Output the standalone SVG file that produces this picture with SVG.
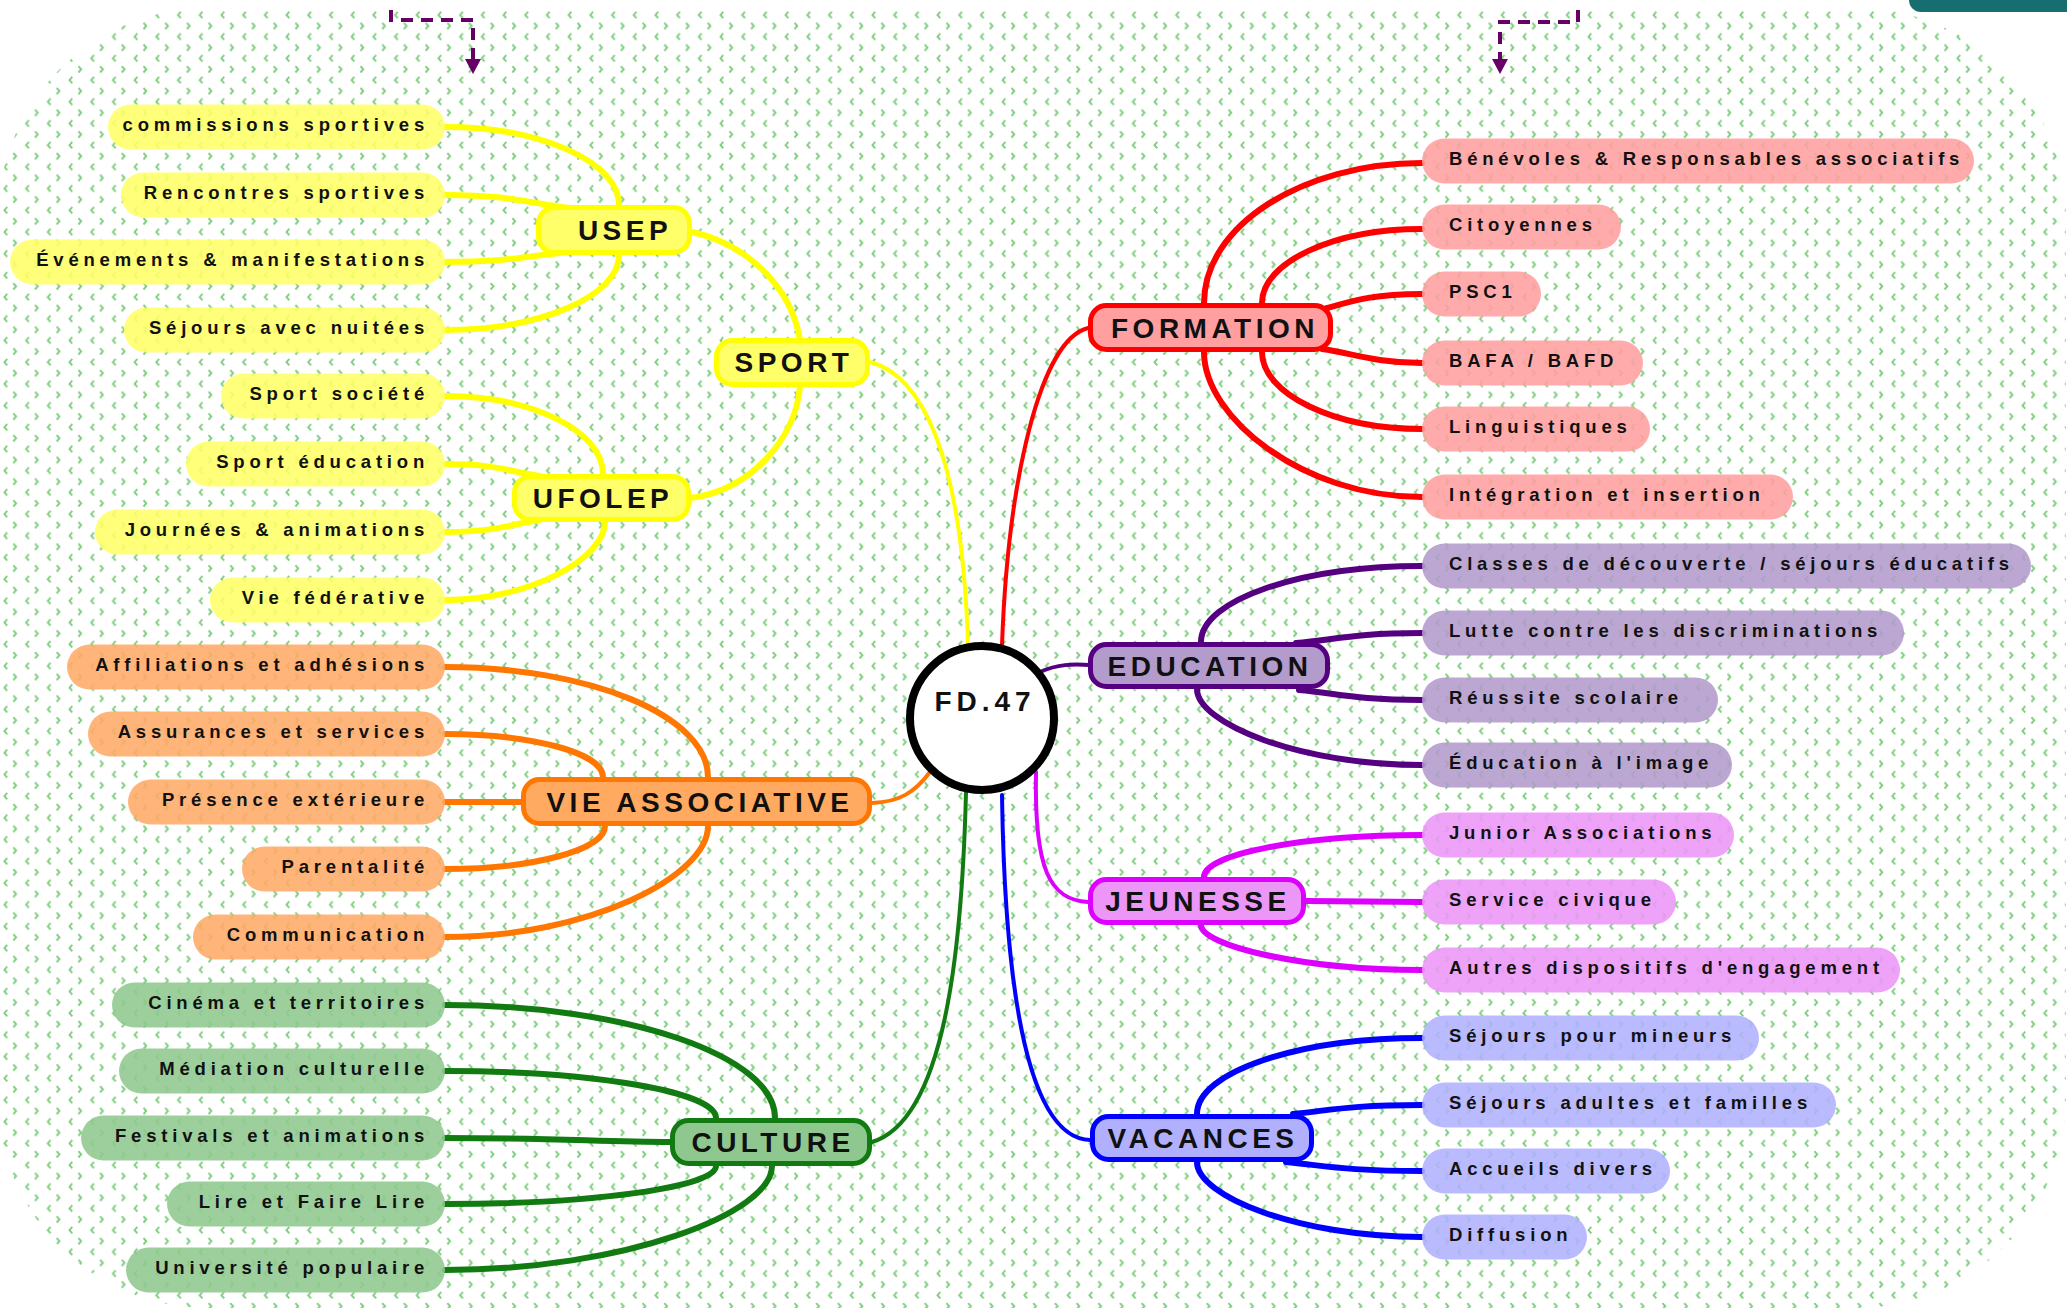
<svg xmlns="http://www.w3.org/2000/svg" width="2067" height="1311" viewBox="0 0 2067 1311">
<defs>
<pattern id="chev" x="0" y="0" width="21.7" height="21.7" patternUnits="userSpaceOnUse">
<path d="M7.2 11.8 L4.4 15 L7.2 18.2" fill="none" stroke="#7fcd7f" stroke-width="1.9"/>
<path d="M13.3 1 L16.1 4.2 L13.3 7.4" fill="none" stroke="#7fcd7f" stroke-width="1.9"/>
</pattern>
<marker id="arr" markerWidth="16" markerHeight="16" refX="1" refY="8" orient="auto" markerUnits="userSpaceOnUse" viewBox="0 0 16 16">
<path d="M0 0 L15 8 L0 16 Z" fill="#660066"/>
</marker>
</defs>
<style>
text{font-family:"Liberation Sans",Arial,sans-serif;font-weight:bold;fill:#111}
.leaf text{font-size:18.5px;letter-spacing:4.8px}
.l text{text-anchor:end}
.main text{font-size:28px;letter-spacing:4.5px;text-anchor:middle}
.leaf rect{fill-opacity:0.88}
.y rect{fill:#ffff66}
.o rect{fill:#ffaa66}
.g rect{fill:#8fc88f}
.r rect{fill:#ff9f9f}
.p rect{fill:#b39bcc}
.m rect{fill:#ec96f8}
.b rect{fill:#b0b0fe}
.main rect{stroke-width:5}
.c path{fill:none;stroke-width:6;stroke-linecap:round}
.c .t{stroke-width:4}
.cy{stroke:#ffff00}.co{stroke:#ff7700}.cg{stroke:#117a11}.cr{stroke:#ff0000}.cp{stroke:#550080}.cm{stroke:#dd00ff}.cb{stroke:#0000ff}
.dash{fill:none;stroke:#660066;stroke-width:4;stroke-dasharray:12 8}
</style>
<rect x="0" y="0" width="2067" height="1311" fill="#ffffff"/>
<rect x="-2" y="8" width="2068" height="1300" rx="210" ry="210" fill="url(#chev)"/>
<rect x="1909" y="-20" width="180" height="32" rx="12" fill="#176e70"/>
<g id="dashed-arrows">
<path class="dash" d="M391 10 L391 20 L473 20 L473 60" marker-end="url(#arr)"/>
<path class="dash" d="M1578 10 L1578 22 L1500 22 L1500 60" marker-end="url(#arr)"/>
</g>
<g id="connectors" class="c">
<path class="t cy" d="M870 362 C920 375 962 450 968 645"/>
<path class="cy" d="M692 232 C750 245 792 290 800 340"/>
<path class="cy" d="M800 387 C795 440 750 490 691 498"/>
<path class="cy" d="M445 127 C541 127 619 162 619 205"/>
<path class="cy" d="M445 195 C514 195 532 204 570 208"/>
<path class="cy" d="M445 262 C514 262 532 255 570 252"/>
<path class="cy" d="M445 330 C541 330 619 296 619 255"/>
<path class="cy" d="M445 396 C532 396 603 431 603 474"/>
<path class="cy" d="M445 464 C497 464 511 472 540 476"/>
<path class="cy" d="M445 532 C497 532 511 524 540 520"/>
<path class="cy" d="M445 600 C533 600 605 557 605 522"/>
<path class="t co" d="M930 772 C915 792 900 802 872 803"/>
<path class="co" d="M445 667 C590 667 708 716 708 777"/>
<path class="co" d="M445 734 C532 734 603 753 603 777"/>
<path class="co" d="M445 802 L521 802"/>
<path class="co" d="M445 869 C533 869 605 850 605 826"/>
<path class="co" d="M445 937 C590 937 708 876 708 826"/>
<path class="t cg" d="M966 792 C962 950 945 1120 872 1142"/>
<path class="cg" d="M445 1005 C627 1005 775 1056 775 1118"/>
<path class="cg" d="M445 1071 C594 1071 716 1092 716 1118"/>
<path class="cg" d="M445 1138 C560 1138 600 1142 672 1142"/>
<path class="cg" d="M445 1204 C594 1204 716 1187 716 1166"/>
<path class="cg" d="M445 1270 C625 1270 772 1213 772 1166"/>
<path class="t cr" d="M1088 328 C1040 340 1008 480 1002 645"/>
<path class="cr" d="M1422 163 C1302 163 1204 226 1204 303"/>
<path class="cr" d="M1422 229 C1334 229 1262 262 1262 303"/>
<path class="cr" d="M1422 294 C1375 294 1355 300 1327 308"/>
<path class="cr" d="M1422 363 C1375 363 1352 353 1322 349"/>
<path class="cr" d="M1422 429 C1334 429 1262 394 1262 352"/>
<path class="cr" d="M1422 497 C1302 497 1204 417 1204 352"/>
<path class="t cp" d="M1040 672 C1058 664 1072 664 1090 665"/>
<path class="cp" d="M1422 566 C1300 566 1201 600 1201 642"/>
<path class="cp" d="M1422 633 C1353 633 1334 640 1296 643"/>
<path class="cp" d="M1422 700 C1354 700 1336 693 1299 690"/>
<path class="cp" d="M1422 765 C1298 765 1197 723 1197 689"/>
<path class="t cm" d="M1036 772 C1034 870 1050 900 1088 902"/>
<path class="cm" d="M1422 835 C1302 835 1204 854 1204 877"/>
<path class="cm" d="M1422 902 L1306 901"/>
<path class="cm" d="M1422 970 C1300 970 1201 945 1201 925"/>
<path class="t cb" d="M1002 795 C1005 1000 1030 1138 1090 1140"/>
<path class="cb" d="M1422 1038 C1298 1038 1197 1072 1197 1114"/>
<path class="cb" d="M1422 1105 C1351 1105 1332 1110 1293 1114"/>
<path class="cb" d="M1422 1171 C1347 1171 1327 1166 1286 1162"/>
<path class="cb" d="M1422 1237 C1298 1237 1197 1196 1197 1162"/>
</g>
<g id="leaf-commissions" class="leaf l y"><rect x="108" y="104.5" width="337" height="45" rx="22.5"/><text x="429" y="131">commissions sportives</text></g>
<g id="leaf-rencontres" class="leaf l y"><rect x="121" y="172.5" width="324" height="45" rx="22.5"/><text x="429" y="199">Rencontres sportives</text></g>
<g id="leaf-evenements" class="leaf l y"><rect x="10" y="239.5" width="435" height="45" rx="22.5"/><text x="429" y="266">Événements &amp; manifestations</text></g>
<g id="leaf-sejours-nuitees" class="leaf l y"><rect x="124" y="307.5" width="321" height="45" rx="22.5"/><text x="429" y="334">Séjours avec nuitées</text></g>
<g id="leaf-sport-societe" class="leaf l y"><rect x="221" y="373.5" width="224" height="45" rx="22.5"/><text x="429" y="400">Sport société</text></g>
<g id="leaf-sport-education" class="leaf l y"><rect x="186" y="441.5" width="259" height="45" rx="22.5"/><text x="429" y="468">Sport éducation</text></g>
<g id="leaf-journees" class="leaf l y"><rect x="95" y="509.5" width="350" height="45" rx="22.5"/><text x="429" y="536">Journées &amp; animations</text></g>
<g id="leaf-vie-federative" class="leaf l y"><rect x="210" y="577.5" width="235" height="45" rx="22.5"/><text x="429" y="604">Vie fédérative</text></g>
<g id="leaf-affiliations" class="leaf l o"><rect x="67" y="644.5" width="378" height="45" rx="22.5"/><text x="429" y="671">Affiliations et adhésions</text></g>
<g id="leaf-assurances" class="leaf l o"><rect x="88" y="711.5" width="357" height="45" rx="22.5"/><text x="429" y="738">Assurances et services</text></g>
<g id="leaf-presence" class="leaf l o"><rect x="128" y="779.5" width="317" height="45" rx="22.5"/><text x="429" y="806">Présence extérieure</text></g>
<g id="leaf-parentalite" class="leaf l o"><rect x="242" y="846.5" width="203" height="45" rx="22.5"/><text x="429" y="873">Parentalité</text></g>
<g id="leaf-communication" class="leaf l o"><rect x="193" y="914.5" width="252" height="45" rx="22.5"/><text x="429" y="941">Communication</text></g>
<g id="leaf-cinema" class="leaf l g"><rect x="112" y="982.5" width="333" height="45" rx="22.5"/><text x="429" y="1009">Cinéma et territoires</text></g>
<g id="leaf-mediation" class="leaf l g"><rect x="119" y="1048.5" width="326" height="45" rx="22.5"/><text x="429" y="1075">Médiation culturelle</text></g>
<g id="leaf-festivals" class="leaf l g"><rect x="81" y="1115.5" width="364" height="45" rx="22.5"/><text x="429" y="1142">Festivals et animations</text></g>
<g id="leaf-lire" class="leaf l g"><rect x="167" y="1181.5" width="278" height="45" rx="22.5"/><text x="429" y="1208">Lire et Faire Lire</text></g>
<g id="leaf-universite" class="leaf l g"><rect x="126" y="1247.5" width="319" height="45" rx="22.5"/><text x="429" y="1274">Université populaire</text></g>
<g id="leaf-benevoles" class="leaf r"><rect x="1422" y="138.5" width="552" height="45" rx="22.5"/><text x="1449" y="165">Bénévoles &amp; Responsables associatifs</text></g>
<g id="leaf-citoyennes" class="leaf r"><rect x="1422" y="204.5" width="199" height="45" rx="22.5"/><text x="1449" y="231">Citoyennes</text></g>
<g id="leaf-psc1" class="leaf r"><rect x="1422" y="271.5" width="119" height="45" rx="22.5"/><text x="1449" y="298">PSC1</text></g>
<g id="leaf-bafa" class="leaf r"><rect x="1422" y="340.5" width="221" height="45" rx="22.5"/><text x="1449" y="367">BAFA / BAFD</text></g>
<g id="leaf-linguistiques" class="leaf r"><rect x="1422" y="406.5" width="228" height="45" rx="22.5"/><text x="1449" y="433">Linguistiques</text></g>
<g id="leaf-integration" class="leaf r"><rect x="1422" y="474.5" width="371" height="45" rx="22.5"/><text x="1449" y="501">Intégration et insertion</text></g>
<g id="leaf-classes" class="leaf p"><rect x="1422" y="543.5" width="609" height="45" rx="22.5"/><text x="1449" y="570">Classes de découverte / séjours éducatifs</text></g>
<g id="leaf-lutte" class="leaf p"><rect x="1422" y="610.5" width="482" height="45" rx="22.5"/><text x="1449" y="637">Lutte contre les discriminations</text></g>
<g id="leaf-reussite" class="leaf p"><rect x="1422" y="677.5" width="296" height="45" rx="22.5"/><text x="1449" y="704">Réussite scolaire</text></g>
<g id="leaf-education-image" class="leaf p"><rect x="1422" y="742.5" width="310" height="45" rx="22.5"/><text x="1449" y="769">Éducation à l'image</text></g>
<g id="leaf-junior" class="leaf m"><rect x="1422" y="812.5" width="312" height="45" rx="22.5"/><text x="1449" y="839">Junior Associations</text></g>
<g id="leaf-service-civique" class="leaf m"><rect x="1422" y="879.5" width="254" height="45" rx="22.5"/><text x="1449" y="906">Service civique</text></g>
<g id="leaf-autres" class="leaf m"><rect x="1422" y="947.5" width="478" height="45" rx="22.5"/><text x="1449" y="974">Autres dispositifs d'engagement</text></g>
<g id="leaf-sejours-mineurs" class="leaf b"><rect x="1422" y="1015.5" width="337" height="45" rx="22.5"/><text x="1449" y="1042">Séjours pour mineurs</text></g>
<g id="leaf-sejours-adultes" class="leaf b"><rect x="1422" y="1082.5" width="414" height="45" rx="22.5"/><text x="1449" y="1109">Séjours adultes et familles</text></g>
<g id="leaf-accueils" class="leaf b"><rect x="1422" y="1148.5" width="248" height="45" rx="22.5"/><text x="1449" y="1175">Accueils divers</text></g>
<g id="leaf-diffusion" class="leaf b"><rect x="1422" y="1214.5" width="165" height="45" rx="22.5"/><text x="1449" y="1241">Diffusion</text></g>
<g id="node-usep" class="main"><rect x="538.5" y="207.5" width="151" height="45" rx="16" fill="#ffff6a" stroke="#ffff00"/><text x="625" y="240">USEP</text></g>
<g id="node-sport" class="main"><rect x="716.5" y="340.5" width="151" height="44" rx="16" fill="#ffff6a" stroke="#ffff00"/><text x="794" y="372">SPORT</text></g>
<g id="node-ufolep" class="main"><rect x="514.5" y="476.5" width="174" height="43" rx="16" fill="#ffff6a" stroke="#ffff00"/><text x="603" y="508">UFOLEP</text></g>
<g id="node-vie-associative" class="main"><rect x="523.5" y="779.5" width="346" height="44" rx="16" fill="#ffaa60" stroke="#ff7700"/><text x="700" y="812">VIE ASSOCIATIVE</text></g>
<g id="node-culture" class="main"><rect x="672.5" y="1120.5" width="197" height="43" rx="16" fill="#8fc88f" stroke="#117a11"/><text x="773" y="1152">CULTURE</text></g>
<g id="node-formation" class="main"><rect x="1090.5" y="305.5" width="240" height="44" rx="16" fill="#ff9f9f" stroke="#ff0000"/><text x="1215" y="338">FORMATION</text></g>
<g id="node-education" class="main"><rect x="1090.5" y="644.5" width="237" height="42" rx="16" fill="#b39bcc" stroke="#550080"/><text x="1210" y="676">EDUCATION</text></g>
<g id="node-jeunesse" class="main"><rect x="1090.5" y="879.5" width="213" height="43" rx="16" fill="#ec96f8" stroke="#dd00ff"/><text x="1198" y="911">JEUNESSE</text></g>
<g id="node-vacances" class="main"><rect x="1092.5" y="1116.5" width="219" height="43" rx="16" fill="#b0b0fe" stroke="#0000ff"/><text x="1203" y="1148">VACANCES</text></g>
<g id="node-fd47"><circle cx="982" cy="718" r="72" fill="#ffffff" stroke="#000000" stroke-width="8"/><text x="985" y="711" style="font-size:28px;letter-spacing:5px;text-anchor:middle">FD.47</text></g>
</svg>
